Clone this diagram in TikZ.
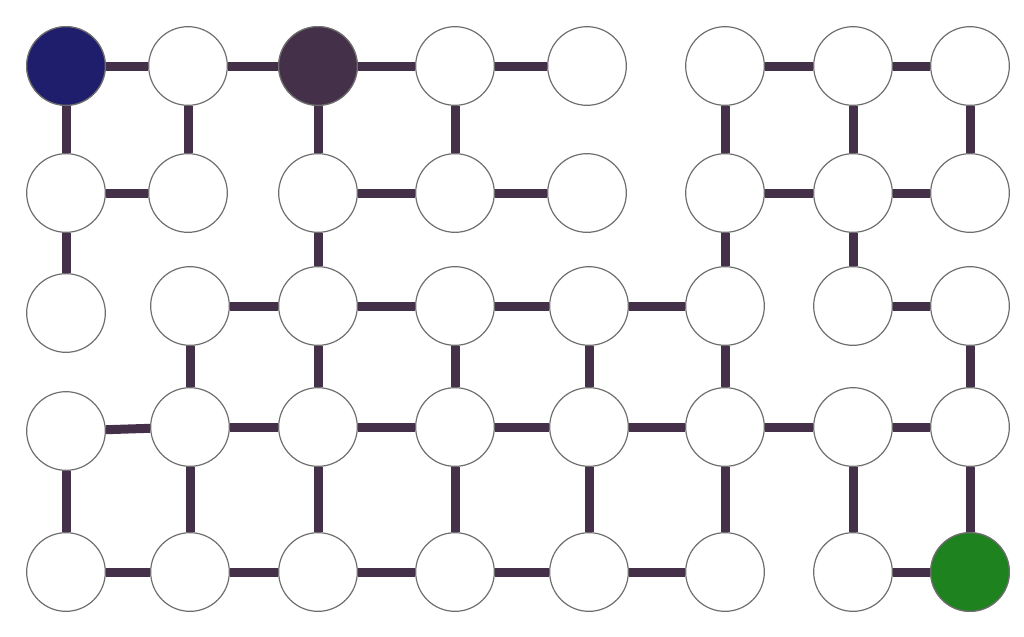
\documentclass[tikz,border=0pt]{standalone}
\usepackage{tikz}
\definecolor{linkcol}{HTML}{45304A}
\definecolor{startcol}{HTML}{1F1E6C}
\definecolor{goalcol}{HTML}{1E821F}
\definecolor{rimcol}{HTML}{6E6E6E}
\tikzset{
  cell/.style={circle, draw=rimcol, line width=0.9pt, fill=white, minimum size=59pt, inner sep=0pt},
  link/.style={draw=linkcol, line width=6.75pt}
}
\begin{document}
\begin{tikzpicture}[x=0.75pt,y=-0.75pt]
				% Khung hình
				\useasboundingbox (0,0) rectangle (1024,636);
				% Các ô
				\foreach \c/\x in {1/66,2/188,3/318,4/455,5/587,6/725,7/853,8/970}
				{
					\node[cell] (r1c\c) at (\x,66) {};
					\node[cell] (r2c\c) at (\x,193) {};
				}
				\foreach \c/\x in {2/190,3/318,4/455,5/589,6/725,7/853,8/970}
				{
					\node[cell] (r3c\c) at (\x,306) {};
					\node[cell] (r4c\c) at (\x,427) {};
					\node[cell] (r5c\c) at (\x,572) {};
				}
				\node[cell] (r3c1) at (66,313) {};
				\node[cell] (r4c1) at (66,431) {};
				\node[cell] (r5c1) at (66,572) {};
				% Ô đầu, ô tối, ô đích
				\node[cell, fill=startcol] at (r1c1) {};
				\node[cell, fill=linkcol] at (r1c3) {};
				\node[cell, fill=goalcol] at (r5c8) {};
				
				% Hàng ngang
				\foreach \a/\b in {r1c1/r1c2,r1c2/r1c3,r1c3/r1c4,r1c4/r1c5,r1c6/r1c7,r1c7/r1c8,
					r2c1/r2c2,r2c3/r2c4,r2c4/r2c5,r2c6/r2c7,r2c7/r2c8,
					r3c2/r3c3,r3c3/r3c4,r3c4/r3c5,r3c5/r3c6,r3c7/r3c8,
					r4c1/r4c2,r4c2/r4c3,r4c3/r4c4,r4c4/r4c5,r4c5/r4c6,r4c6/r4c7,r4c7/r4c8,
					r5c1/r5c2,r5c2/r5c3,r5c3/r5c4,r5c4/r5c5,r5c5/r5c6,r5c7/r5c8}
					\draw[link] (\a) -- (\b);
				% Cột dọc
				\foreach \a/\b in {r1c1/r2c1,r1c2/r2c2,r1c3/r2c3,r1c4/r2c4,r1c6/r2c6,r1c7/r2c7,r1c8/r2c8,
					r2c1/r3c1,r2c3/r3c3,r2c6/r3c6,r2c7/r3c7,
					r3c2/r4c2,r3c3/r4c3,r3c4/r4c4,r3c5/r4c5,r3c6/r4c6,r3c8/r4c8,
					r4c1/r5c1,r4c2/r5c2,r4c3/r5c3,r4c4/r5c4,r4c5/r5c5,r4c6/r5c6,r4c7/r5c7,r4c8/r5c8}
					\draw[link] (\a) -- (\b);
			\end{tikzpicture}
\end{document}
